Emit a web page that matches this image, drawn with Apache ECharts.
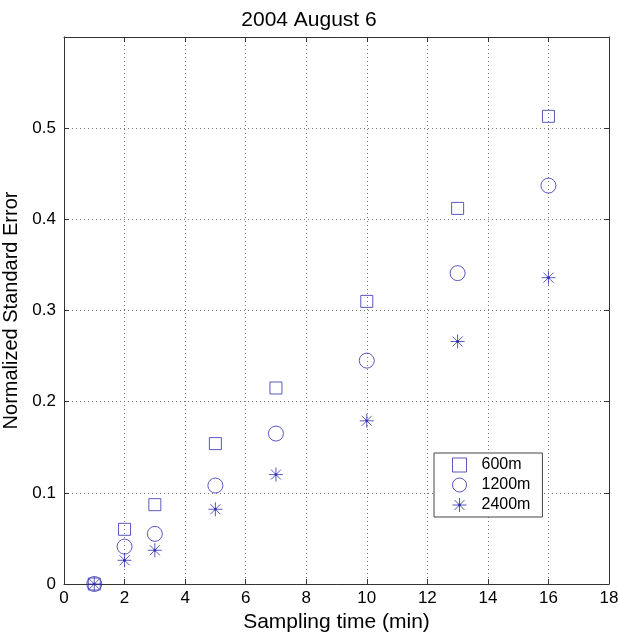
<!DOCTYPE html>
<html>
<head>
<meta charset="utf-8">
<script src="https://cdn.jsdelivr.net/npm/echarts@6/dist/echarts.min.js"></script>
<style>
  html, body { margin: 0; padding: 0; background: #fff; }
  #main { width: 618px; height: 634px; }
</style>
</head>
<body>
<div id="main"></div>
<script>
  // sampling time (min)
  var times = [1, 2, 3, 5, 7, 10, 13, 16];
  // normalized standard error for each spacing
  var err600 = [0, 0.060, 0.087, 0.154, 0.215, 0.310, 0.412, 0.513];
  var err1200 = [0, 0.041, 0.055, 0.108, 0.165, 0.245, 0.341, 0.437];
  var err2400 = [0, 0.026, 0.037, 0.082, 0.120, 0.179, 0.266, 0.336];
  var names = ['600m', '1200m', '2400m'];

  var blue = '#3030b0';
  var font = 'Liberation Sans, Arial, sans-serif';
  // open square, keeps its aspect in the legend
  var squarePath = 'path://M0,0H12V12H0Z';
  // asterisk with a dot in the middle
  var starPath = 'path://M7,0V14M0,7H14M2,2L12,12M12,2L2,12M6.2,6.2H7.8V7.8H6.2Z';

  function pairs(ys) {
    return times.map(function (t, i) { return [t, ys[i]]; });
  }

  var chart = echarts.init(document.getElementById('main'), null, { renderer: 'canvas' });

  // box around the plot, ticks pointing in
  var frame = {
    axisLine: { onZero: false, lineStyle: { color: '#333', width: 1 } },
    axisTick: { inside: true, length: 5, lineStyle: { color: '#333' } }
  };

  chart.setOption({
    backgroundColor: '#fff',
    animation: false,
    title: {
      text: '2004 August 6',
      left: 'center',
      top: 5,
      textStyle: { fontFamily: font, fontSize: 21, fontWeight: 'normal', color: '#000' }
    },
    grid: { left: 64, top: 37, right: 9, bottom: 50, show: false, outerBoundsMode: 'none', containLabel: false },
    legend: {
      orient: 'vertical',
      left: 434,
      top: 453,
      padding: [4, 12, 4, 18],
      itemWidth: 34,
      itemHeight: 14,
      itemGap: 4,
      backgroundColor: '#fff',
      borderColor: '#444',
      borderWidth: 1,
      borderRadius: 0,
      itemStyle: { borderWidth: 1 },
      textStyle: { fontFamily: font, fontSize: 16, color: '#000' },
      data: [
        { name: names[0], icon: squarePath },
        { name: names[1], icon: 'circle' },
        { name: names[2], icon: starPath }
      ]
    },
    xAxis: [
      Object.assign({
        type: 'value', position: 'bottom',
        min: 0, max: 18, interval: 2,
        name: 'Sampling time (min)',
        nameLocation: 'middle',
        nameGap: 23,
        nameTextStyle: { fontFamily: font, fontSize: 21, color: '#000' },
        axisLabel: { fontFamily: font, fontSize: 17, color: '#000', margin: 6 },
        splitLine: { show: true, lineStyle: { color: '#777', type: [1, 3] } }
      }, frame),
      Object.assign({
        type: 'value', position: 'top',
        min: 0, max: 18, interval: 2,
        axisLabel: { show: false },
        splitLine: { show: false }
      }, frame)
    ],
    yAxis: [
      Object.assign({
        type: 'value', position: 'left',
        min: 0, max: 0.6, interval: 0.1,
        name: 'Normalized Standard Error',
        nameLocation: 'middle',
        nameGap: 32,
        nameTextStyle: { fontFamily: font, fontSize: 20, color: '#000' },
        axisLabel: {
          fontFamily: font, fontSize: 17, color: '#000', margin: 8,
          formatter: function (v) { return v > 0.55 ? '' : String(+v.toFixed(1)); }
        },
        splitLine: { show: true, lineStyle: { color: '#777', type: [1, 3] } }
      }, frame),
      Object.assign({
        type: 'value', position: 'right',
        min: 0, max: 0.6, interval: 0.1,
        axisLabel: { show: false },
        splitLine: { show: false }
      }, frame)
    ],
    series: [
      {
        name: names[0], type: 'scatter',
        symbol: squarePath, symbolSize: 12,
        itemStyle: { color: 'rgba(0,0,0,0)', borderColor: blue, borderWidth: 1 },
        data: pairs(err600)
      },
      {
        name: names[1], type: 'scatter',
        symbol: 'circle', symbolSize: 15,
        itemStyle: { color: 'rgba(0,0,0,0)', borderColor: blue, borderWidth: 1 },
        data: pairs(err1200)
      },
      {
        name: names[2], type: 'scatter',
        symbol: starPath, symbolSize: 14,
        itemStyle: { color: blue, borderColor: blue, borderWidth: 1 },
        data: pairs(err2400)
      }
    ]
  });
</script>
</body>
</html>
